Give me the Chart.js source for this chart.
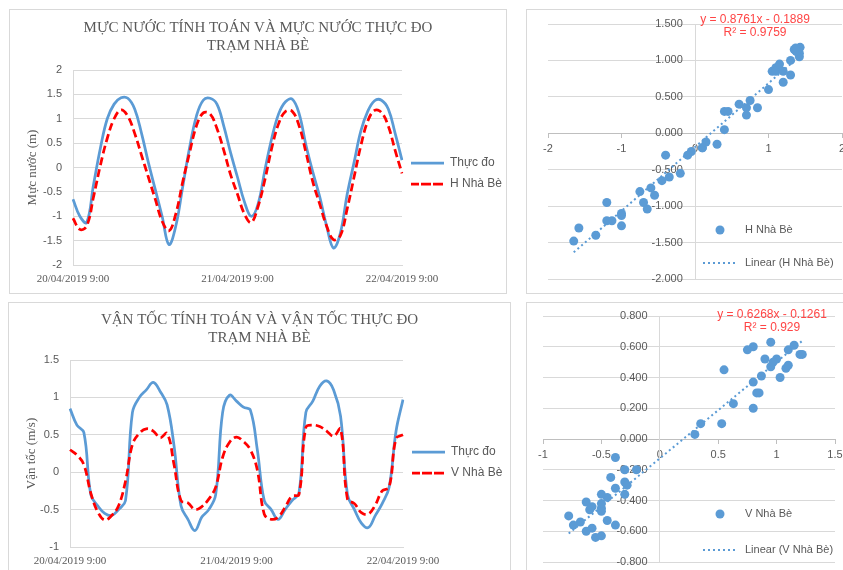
<!DOCTYPE html>
<html>
<head>
<meta charset="utf-8">
<script src="https://cdn.jsdelivr.net/npm/chart.js@4.4.1/dist/chart.umd.min.js"></script>
<style>
html, body { margin: 0; overflow: hidden; background: #fff; }
body { width: 843px; height: 570px; position: relative; }
.box { position: absolute; border: 1px solid #d9d9d9; }
.box canvas { display: block; }
</style>
</head>
<body>
<div class="box" style="left:9px;top:9px;"><canvas id="levelChart" width="496" height="283"></canvas></div>
<div class="box" style="left:526px;top:9px;"><canvas id="levelFit" width="330" height="283"></canvas></div>
<div class="box" style="left:8px;top:302px;"><canvas id="speedChart" width="501" height="280"></canvas></div>
<div class="box" style="left:526px;top:302px;"><canvas id="speedFit" width="330" height="280"></canvas></div>
<script>
// hourly records from 20/04/2019 9:00 to 22/04/2019 9:00
var firstDay = 20;
var firstHour = 9;
var hourCount = 49;
var timeLabels = [];
for (var i = 0; i < hourCount; i++) {
  var h = firstHour + i;
  timeLabels.push(firstDay + Math.floor(h / 24) + "/04/2019 " + (h % 24) + ":00");
}

// water level (m)
var levelObs = [-0.65, -1.0, -1.13, -0.35, 0.4, 1.0, 1.3, 1.43, 1.42, 1.2, 0.7, 0.1, -0.45, -1.0, -1.58, -1.2,
  -0.4, 0.4, 1.05, 1.38, 1.42, 1.3, 0.85, 0.3, -0.2, -0.7, -1.0, -0.75, -0.05, 0.6, 1.1, 1.35, 1.4, 1.1,
  0.45, -0.1, -0.6, -1.2, -1.65, -1.35, -0.55, 0.1, 0.75, 1.15, 1.37, 1.38, 1.2, 0.7, 0.15];
var levelSim = [-1.04, -1.27, -1.2, -0.6, 0.05, 0.6, 1.0, 1.18, 1.05, 0.7, 0.25, -0.2, -0.65, -1.1, -1.3, -0.95,
  -0.3, 0.3, 0.85, 1.12, 1.1, 0.8, 0.35, -0.15, -0.55, -0.95, -1.13, -0.8, -0.25, 0.4, 0.9, 1.15, 1.15, 0.85,
  0.3, -0.3, -0.75, -1.2, -1.48, -1.4, -0.85, -0.2, 0.45, 0.95, 1.17, 1.13, 0.85, 0.35, -0.12];

// velocity (m/s)
var speedObs = [0.85, 0.63, 0.53, -0.3, -0.45, -0.55, -0.58, -0.5, -0.38, 0.8, 1.0, 1.1, 1.2, 1.08, 0.9, 0.35,
  -0.45, -0.63, -0.78, -0.6, -0.5, -0.3, 0.8, 1.03, 0.95, 0.87, 0.83, 0.3, -0.38, -0.5, -0.63, -0.5, -0.38,
  -0.28, 0.8, 0.95, 1.15, 1.22, 1.1, 0.75, -0.3, -0.5, -0.68, -0.74, -0.58, -0.42, -0.2, 0.55, 0.97];
var speedSim = [0.3, 0.23, 0.1, -0.28, -0.53, -0.64, -0.58, -0.45, -0.12, 0.37, 0.52, 0.58, 0.55, 0.46, 0.52, 0.1,
  -0.38, -0.41, -0.5, -0.46, -0.36, -0.2, 0.2, 0.4, 0.47, 0.41, 0.3, 0.03, -0.56, -0.63, -0.6, -0.47, -0.32,
  -0.3, 0.6, 0.63, 0.61, 0.55, 0.48, 0.58, -0.36, -0.42, -0.54, -0.56, -0.44, -0.25, -0.2, 0.45, 0.5];

// trendline: slope, intercept, R2
var levelTrend = [0.8761, -0.1889, 0.9759];
var speedTrend = [0.6268, -0.1261, 0.929];

var blue = "#5b9bd5";
var red = "#ff0000";
var grey = "#595959";
var lineGrey = "#d9d9d9";
var serif = "'Liberation Serif', 'Times New Roman', serif";
var sans = "'Liberation Sans', Arial, sans-serif";

function shortNum(v) {
  return String(Math.round(v * 100) / 100);
}

function lineChart(id, o) {
  return new Chart(document.getElementById(id), {
    type: "line",
    data: {
      labels: timeLabels,
      datasets: [
        { label: "Thực đo", data: o.obs, borderColor: blue, backgroundColor: blue, borderWidth: 2.75, pointRadius: 0, tension: 0.4, order: 1 },
        { label: o.simLabel, data: o.sim, borderColor: red, backgroundColor: red, borderWidth: 2.75, borderDash: [8, 4], pointRadius: 0, tension: 0.4, order: 0 }
      ]
    },
    options: {
      responsive: false,
      animation: false,
      layout: { padding: 0 },
      plugins: {
        tooltip: { enabled: false },
        title: {
          display: true,
          text: o.title,
          color: grey,
          font: { family: serif, size: 15, weight: "normal", lineHeight: 1.2 },
          padding: { top: o.titleTop, bottom: o.titleBottom }
        },
        legend: {
          position: "right",
          fullSize: false,
          maxWidth: o.legendWidth,
          // empty title only pushes the two keys a little lower
          title: { display: true, text: " ", padding: 0, font: { size: o.legendShift, lineHeight: 1 } },
          labels: {
            boxWidth: 33,
            boxHeight: 0,
            padding: 9,
            color: grey,
            font: { family: sans, size: 12 },
            sort: function (a, b) { return a.datasetIndex - b.datasetIndex; }
          }
        }
      },
      scales: {
        x: {
          afterFit: function (s) { s.height = o.xHeight; },
          grid: { display: false, drawTicks: false },
          border: { display: true, color: lineGrey },
          ticks: {
            autoSkip: false,
            maxRotation: 0,
            minRotation: 0,
            padding: 8,
            color: grey,
            font: { family: serif, size: 11 },
            callback: function (v, i) { return i % 24 === 0 ? this.getLabelForValue(v) : ""; }
          }
        },
        y: {
          min: o.min,
          max: o.max,
          afterFit: function (s) { s.width = o.yWidth; },
          grid: { color: lineGrey, drawTicks: false },
          border: { display: true, color: lineGrey },
          ticks: { stepSize: 0.5, padding: 11, color: grey, font: { family: sans, size: 11 }, callback: shortNum },
          title: {
            display: true,
            text: o.yTitle,
            color: grey,
            font: { family: serif, size: 13 },
            padding: { top: 15, bottom: 0 }
          }
        }
      }
    }
  });
}

// equation and legend drawn inside the plot area of the scatter charts
var notes = {
  id: "notes",
  afterDatasetsDraw: function (chart, args, o) {
    var ctx = chart.ctx;
    var pts = chart.data.datasets[0];
    var fit = chart.data.datasets[1];
    ctx.save();
    ctx.textBaseline = "middle";
    ctx.textAlign = "center";
    ctx.fillStyle = "#ff4545";
    ctx.font = "12px " + sans;
    o.eq.forEach(function (t, i) { ctx.fillText(t, o.eqX, o.eqY + i * 13); });

    ctx.beginPath();
    ctx.arc(o.keyX + 17, o.keyY, pts.pointRadius, 0, Math.PI * 2);
    ctx.fillStyle = pts.backgroundColor;
    ctx.fill();
    ctx.beginPath();
    ctx.setLineDash(fit.borderDash);
    ctx.lineWidth = fit.borderWidth;
    ctx.strokeStyle = fit.borderColor;
    ctx.moveTo(o.keyX, o.keyY + o.keyGap);
    ctx.lineTo(o.keyX + 34, o.keyY + o.keyGap);
    ctx.stroke();
    ctx.setLineDash([]);

    ctx.textAlign = "left";
    ctx.fillStyle = grey;
    ctx.font = "11px " + sans;
    ctx.fillText(pts.label, o.keyX + 42, o.keyY);
    ctx.fillText(fit.label, o.keyX + 42, o.keyY + o.keyGap);
    ctx.restore();
  }
};

function fitChart(id, o) {
  var pts = o.obs.map(function (v, i) { return { x: v, y: o.sim[i] }; });
  var ends = [Math.min.apply(null, o.obs), Math.max.apply(null, o.obs)];
  var trend = ends.map(function (x) { return { x: x, y: o.trend[0] * x + o.trend[1] }; });
  var eq = [
    "y = " + o.trend[0] + "x - " + Math.abs(o.trend[1]),
    "R² = " + o.trend[2]
  ];
  return new Chart(document.getElementById(id), {
    type: "scatter",
    data: {
      datasets: [
        { label: o.label, data: pts, backgroundColor: blue, borderWidth: 0, pointRadius: 4.5 },
        { label: "Linear (" + o.label + ")", data: trend, showLine: true, borderColor: blue, borderWidth: 2, borderDash: [2, 3], pointRadius: 0 }
      ]
    },
    plugins: [notes],
    options: {
      responsive: false,
      animation: false,
      layout: { padding: o.pad },
      plugins: {
        legend: { display: false },
        tooltip: { enabled: false },
        notes: { eq: eq, eqX: o.eqX, eqY: o.eqY, keyX: o.keyX, keyY: o.keyY, keyGap: o.keyGap }
      },
      scales: {
        x: {
          type: "linear",
          min: o.xMin,
          max: o.xMax,
          position: { y: 0 },
          grid: { display: true, drawOnChartArea: false, drawTicks: true, tickLength: 4, color: "#bfbfbf" },
          border: { color: "#bfbfbf" },
          ticks: { stepSize: o.xStep, padding: 5, color: grey, font: { family: sans, size: 11 }, callback: shortNum }
        },
        y: {
          min: o.yMin,
          max: o.yMax,
          position: { x: 0 },
          grid: { color: lineGrey, drawTicks: false },
          border: { color: lineGrey },
          ticks: {
            stepSize: o.yStep,
            color: grey,
            font: { family: sans, size: 11 },
            // labels sit on the crossing axis, the trailing gap keeps them off it
            callback: function (v) { return v.toFixed(3) + "    "; }
          }
        }
      }
    }
  });
}

lineChart("levelChart", {
  obs: levelObs, sim: levelSim, simLabel: "H Nhà Bè",
  title: ["MỰC NƯỚC TÍNH TOÁN VÀ MỰC NƯỚC THỰC ĐO", "TRẠM NHÀ BÈ"],
  yTitle: "Mực nước (m)", min: -2, max: 2,
  titleTop: 9, titleBottom: 15, xHeight: 28, yWidth: 63, legendWidth: 104, legendShift: 12
});

lineChart("speedChart", {
  obs: speedObs, sim: speedSim, simLabel: "V Nhà Bè",
  title: ["VẬN TỐC TÍNH TOÁN VÀ VẬN TỐC THỰC ĐO", "TRẠM NHÀ BÈ"],
  yTitle: "Vận tốc (m/s)", min: -1, max: 1.5,
  titleTop: 8, titleBottom: 13, xHeight: 36, yWidth: 61, legendWidth: 107, legendShift: 18
});

fitChart("levelFit", {
  obs: levelObs, sim: levelSim, label: "H Nhà Bè", trend: levelTrend,
  xMin: -2, xMax: 2, xStep: 1, yMin: -2, yMax: 1.5, yStep: 0.5,
  pad: { left: 21, right: 15, top: 14, bottom: 14 },
  eqX: 228, eqY: 10, keyX: 176, keyY: 220, keyGap: 33
});

fitChart("speedFit", {
  obs: speedObs, sim: speedSim, label: "V Nhà Bè", trend: speedTrend,
  xMin: -1, xMax: 1.5, xStep: 0.5, yMin: -0.8, yMax: 0.8, yStep: 0.2,
  pad: { left: 16, right: 22, top: 13, bottom: 21 },
  eqX: 245, eqY: 12, keyX: 176, keyY: 211, keyGap: 36
});
</script>
</body>
</html>
